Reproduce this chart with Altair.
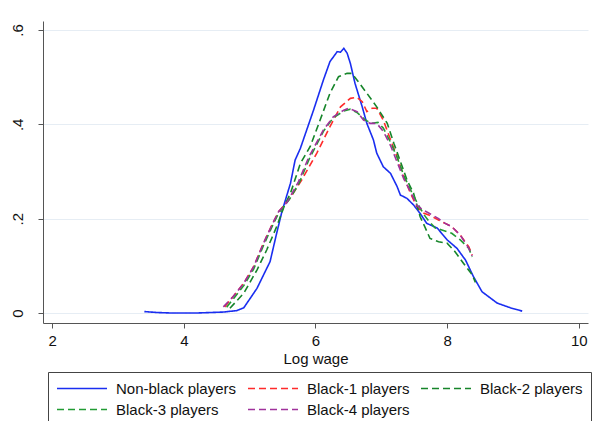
import altair as alt
import pandas as pd

names = ["Non-black players", "Black-1 players", "Black-2 players", "Black-3 players", "Black-4 players"]
colors = ["#1a2ef0", "#ff2b2b", "#16852a", "#229c34", "#a0329c"]

nb_x = [3.40,3.60,3.80,4.20,4.60,4.80,4.91,5.11,5.31,5.41,5.49,5.62,5.69,5.77,5.97,6.12,6.22,6.33,6.38,6.43,6.48,6.53,6.60,6.71,6.78,6.88,6.93,7.03,7.14,7.24,7.29,7.39,7.49,7.59,7.69,7.85,8.00,8.15,8.28,8.40,8.53,8.76,8.96,9.14]
nb_y = [0.003,0.001,0.000,0.000,0.002,0.005,0.011,0.052,0.109,0.169,0.215,0.275,0.324,0.349,0.430,0.494,0.533,0.554,0.553,0.561,0.551,0.529,0.487,0.437,0.402,0.367,0.339,0.310,0.296,0.268,0.250,0.243,0.229,0.211,0.190,0.180,0.155,0.137,0.112,0.077,0.045,0.021,0.011,0.004]

b1_x = [4.62,4.75,4.91,5.06,5.21,5.34,5.44,5.52,5.62,5.79,6.02,6.22,6.38,6.53,6.63,6.71,6.78,6.86,6.93,7.03,7.14,7.24,7.34,7.44,7.54,7.64,7.72,7.87,7.97,8.07,8.20,8.33,8.38]
b1_y = [0.013,0.035,0.063,0.098,0.148,0.187,0.215,0.228,0.245,0.282,0.339,0.395,0.437,0.455,0.457,0.448,0.427,0.434,0.434,0.409,0.367,0.331,0.290,0.255,0.225,0.212,0.208,0.197,0.190,0.183,0.165,0.140,0.123]

b2_x = [4.70,4.91,5.11,5.26,5.41,5.52,5.62,5.77,5.92,6.07,6.22,6.35,6.48,6.55,6.63,6.78,6.93,7.09,7.19,7.29,7.39,7.49,7.59,7.67,7.74,7.87,8.00,8.12,8.25,8.38,8.43]
b2_y = [0.010,0.042,0.091,0.134,0.183,0.225,0.254,0.317,0.353,0.409,0.466,0.501,0.508,0.508,0.494,0.466,0.437,0.402,0.360,0.321,0.282,0.254,0.204,0.180,0.158,0.151,0.148,0.130,0.105,0.081,0.065]

b3_x = [4.65,4.91,5.06,5.21,5.34,5.44,5.60,5.75,5.90,6.12,6.27,6.43,6.53,6.63,6.75,6.85,6.95,7.03,7.14,7.24,7.34,7.44,7.54,7.64,7.72,7.82,7.92,8.07,8.20,8.33,8.38]
b3_y = [0.012,0.058,0.093,0.143,0.183,0.212,0.240,0.275,0.325,0.385,0.414,0.428,0.432,0.425,0.410,0.402,0.404,0.392,0.362,0.330,0.292,0.262,0.235,0.210,0.195,0.180,0.176,0.169,0.155,0.137,0.119]

b4_x = [4.60,4.75,4.91,5.06,5.21,5.34,5.44,5.57,5.74,5.90,6.12,6.27,6.43,6.50,6.63,6.73,6.83,6.93,7.03,7.14,7.24,7.34,7.44,7.54,7.64,7.72,7.87,7.97,8.07,8.20,8.33,8.38]
b4_y = [0.013,0.035,0.063,0.098,0.148,0.187,0.215,0.235,0.278,0.331,0.388,0.416,0.430,0.434,0.427,0.409,0.402,0.402,0.385,0.355,0.320,0.285,0.258,0.228,0.218,0.212,0.200,0.190,0.183,0.165,0.137,0.121]

x_ticks = [2, 4, 6, 8, 10]
y_ticks = [0, 0.2, 0.4, 0.6]

series = [(nb_x, nb_y), (b1_x, b1_y), (b2_x, b2_y), (b3_x, b3_y), (b4_x, b4_y)]
rows = []
for name, (xs, ys) in zip(names, series):
    for i, (xv, yv) in enumerate(zip(xs, ys)):
        rows.append({"series": name, "x": xv, "y": yv, "idx": i})
df = pd.DataFrame(rows)

dashes = [[1, 0], [7, 4], [7, 4], [7, 4], [7, 4]]
FONT = "Liberation Sans"

chart = alt.Chart(df).mark_line(strokeWidth=1.6).encode(
    x=alt.X("x:Q",
            scale=alt.Scale(domain=[1.86, 10.14], nice=False, zero=False),
            axis=alt.Axis(values=x_ticks, title="Log wage", grid=False,
                          tickSize=5, labelPadding=5, titlePadding=3)),
    y=alt.Y("y:Q",
            scale=alt.Scale(domain=[-0.0212, 0.619], nice=False, zero=False),
            axis=alt.Axis(values=y_ticks, title=None, grid=True,
                          tickSize=5, labelPadding=13, labelAngle=270,
                          labelAlign="center", labelBaseline="bottom",
                          labelExpr="datum.value == 0 ? '0' : replace(format(datum.value, '.1f'), '0.', '.')")),
    color=alt.Color("series:N", scale=alt.Scale(domain=names, range=colors),
                    legend=alt.Legend(title=None)),
    strokeDash=alt.StrokeDash("series:N", scale=alt.Scale(domain=names, range=dashes),
                              legend=alt.Legend(title=None)),
    order="idx:Q",
).properties(
    width=545, height=302,
    autosize=alt.AutoSizeParams(type="none"),
    padding={"left": 43, "top": 21, "right": 10, "bottom": 98},
).configure_view(
    stroke=None
).configure_axis(
    labelFont=FONT, titleFont=FONT, labelFontSize=15, titleFontSize=15,
    titleFontWeight="normal", labelColor="#111", titleColor="#111",
    domainColor="#555", tickColor="#555", gridColor="#e6edf4", gridWidth=1,
).configure_legend(
    orient="none", legendX=5, legendY=351, direction="horizontal", columns=3,
    symbolType="stroke", symbolSize=2500, symbolStrokeWidth=1.6,
    labelFont=FONT, labelFontSize=15, labelColor="#111", labelOffset=8, labelLimit=300,
    columnPadding=10, rowPadding=4, clipHeight=17, padding=8,
    strokeColor="#444", fillColor="white",
)

chart.save("out.html", embed_options={"renderer": "svg", "actions": False})
